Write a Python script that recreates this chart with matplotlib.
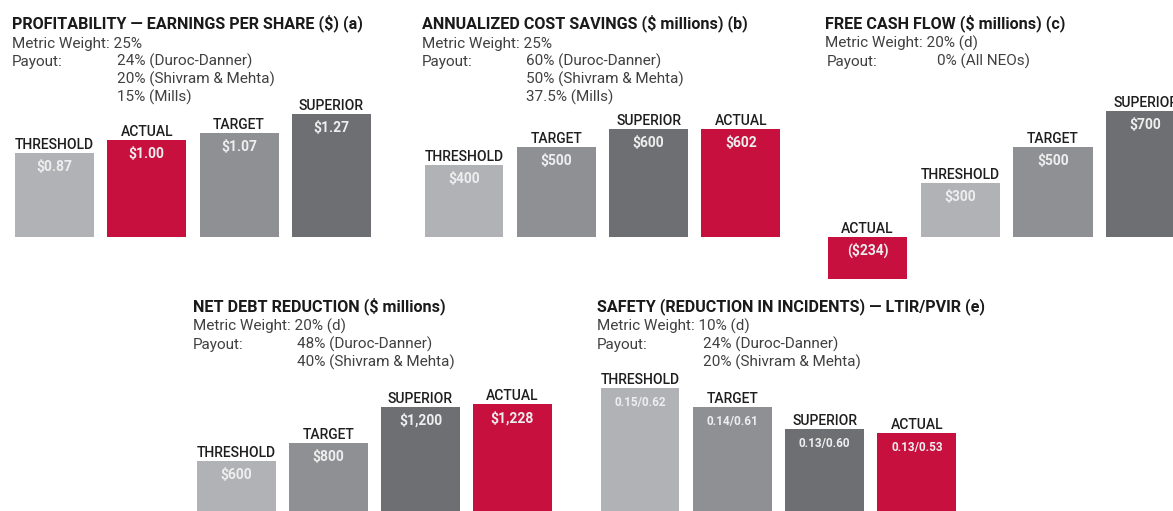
import matplotlib
matplotlib.use("Agg")
import matplotlib.pyplot as plt

W, H = 1173, 511

# colours per bar kind
colors = {
    "THRESHOLD": "#b1b2b6",
    "TARGET": "#8f9094",
    "SUPERIOR": "#6e6f73",
    "ACTUAL": "#c8103f",
}

# Panel (a) profitability
a_cats = ["THRESHOLD", "ACTUAL", "TARGET", "SUPERIOR"]
a_vals = [0.87, 1.00, 1.07, 1.27]
a_labels = ["$0.87", "$1.00", "$1.07", "$1.27"]

# Panel (b) cost savings
b_cats = ["THRESHOLD", "TARGET", "SUPERIOR", "ACTUAL"]
b_vals = [400, 500, 600, 602]
b_labels = ["$400", "$500", "$600", "$602"]

# Panel (c) free cash flow
c_cats = ["ACTUAL", "THRESHOLD", "TARGET", "SUPERIOR"]
c_vals = [-234, 300, 500, 700]
c_labels = ["($234)", "$300", "$500", "$700"]

# Panel (d) net debt reduction
d_cats = ["THRESHOLD", "TARGET", "SUPERIOR", "ACTUAL"]
d_vals = [600, 800, 1200, 1228]
d_labels = ["$600", "$800", "$1,200", "$1,228"]

# Panel (e) safety - bar heights are only visual steps
e_cats = ["THRESHOLD", "TARGET", "SUPERIOR", "ACTUAL"]
e_vals = [1.27, 1.08, 0.86, 0.82]
e_labels = ["0.15/0.62", "0.14/0.61", "0.13/0.60", "0.13/0.53"]

titles = [
    "PROFITABILITY \u2014 EARNINGS PER SHARE ($) (a)",
    "ANNUALIZED COST SAVINGS ($ millions) (b)",
    "FREE CASH FLOW ($ millions) (c)",
    "NET DEBT REDUCTION ($ millions)",
    "SAFETY (REDUCTION IN INCIDENTS) \u2014 LTIR/PVIR (e)",
]
weights = ["Metric Weight: 25%", "Metric Weight: 25%", "Metric Weight: 20% (d)",
           "Metric Weight: 20% (d)", "Metric Weight: 10% (d)"]
payouts = [
    ["24% (Duroc-Danner)", "20% (Shivram & Mehta)", "15% (Mills)"],
    ["60% (Duroc-Danner)", "50% (Shivram & Mehta)", "37.5% (Mills)"],
    ["0% (All NEOs)"],
    ["48% (Duroc-Danner)", "40% (Shivram & Mehta)"],
    ["24% (Duroc-Danner)", "20% (Shivram & Mehta)"],
]

plt.rcParams["font.family"] = ["Roboto", "DejaVu Sans"]
fig = plt.figure(figsize=(W / 100, H / 100), dpi=100)
fig.patch.set_facecolor("white")


def ftext(x, y, s, **kw):
    # x, y in pixels from top-left
    fig.text(x / W, 1 - y / H, s, **kw)


def header(i, x, y, val_dx):
    ftext(x, y, titles[i], fontsize=11.6, fontweight="bold", color="#1a1a1a", va="baseline")
    ftext(x, y + 20, weights[i], fontsize=11, color="#404040", va="baseline")
    pay_x = x + 2 if i == 2 else x
    ftext(pay_x, y + 38, "Payout:", fontsize=11, color="#404040", va="baseline")
    for k, line in enumerate(payouts[i]):
        ftext(x + val_dx, y + 38 + k * 17.8, line, fontsize=11, color="#404040", va="baseline")


def panel(cats, vals, labels, x0, step, baseline, scale, ymin, ymax, vsize=10):
    left = x0 - 0.5 * step
    bottom = (H - baseline) + ymin * scale
    ax = fig.add_axes([left / W, bottom / H, 4 * step / W, (ymax - ymin) * scale / H])
    ax.set_xlim(-0.5, 3.5)
    ax.set_ylim(ymin, ymax)
    ax.axis("off")
    xs = range(len(cats))
    ax.bar(xs, vals, width=0.855, color=[colors[c] for c in cats])
    for x, c, v, lab in zip(xs, cats, vals, labels):
        top = max(v, 0)
        ax.annotate(c, (x, top), xytext=(0, 4), textcoords="offset pixels",
                    ha="center", va="baseline", fontsize=10, fontweight="medium",
                    color="#1e1e1e")
        ax.annotate(lab, (x, top), xytext=(0, -18), textcoords="offset pixels",
                    ha="center", va="baseline", fontsize=vsize, fontweight="bold",
                    color="#eeeeee")
    return ax


header(0, 12, 28, 105)
header(1, 422, 28, 104)
header(2, 825, 28, 112)
header(3, 193, 311, 104)
header(4, 597, 311, 106)

panel(a_cats, a_vals, a_labels, 54.5, 92.3, 237, 97, 0, 1.5)
panel(b_cats, b_vals, b_labels, 464, 92.3, 237, 0.18, 0, 800)
panel(c_cats, c_vals, c_labels, 867.5, 92.7, 237, 0.18, -300, 800)
panel(d_cats, d_vals, d_labels, 236.5, 92.0, 515, 0.09, 0, 1500)
panel(e_cats, e_vals, e_labels, 640, 92.3, 515, 100, 0, 1.5, vsize=8.5)

fig.savefig("out.png", dpi=100, facecolor="white")
